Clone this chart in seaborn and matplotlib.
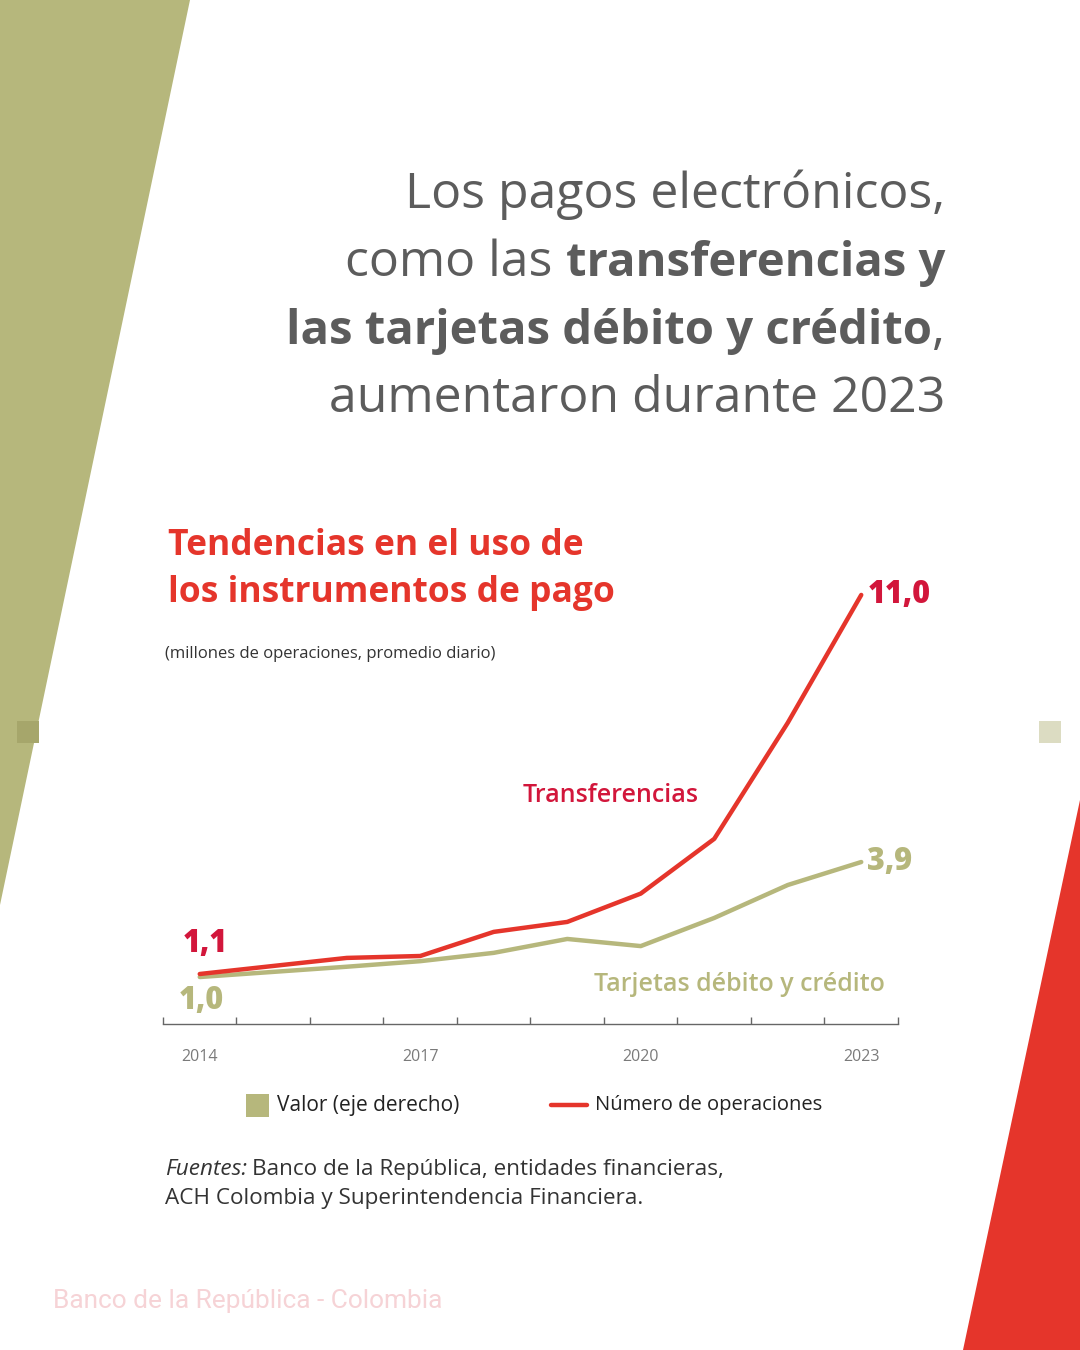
import matplotlib
matplotlib.use("Agg")
import matplotlib.pyplot as plt
import matplotlib.patches as mpatches
from matplotlib.lines import Line2D
import seaborn as sns
import pandas as pd

# ---------------- data ----------------
years = [2014, 2015, 2016, 2017, 2018, 2019, 2020, 2021, 2022, 2023]
transferencias = [1.1, 1.31, 1.52, 1.57, 2.2, 2.46, 3.2, 4.63, 7.66, 11.0]   # número de operaciones
tarjetas = [1.0, 1.13, 1.26, 1.40, 1.61, 1.96, 1.78, 2.49, 3.32, 3.9]        # valor (eje derecho)
tick_years = [2014, 2017, 2020, 2023]

df = pd.DataFrame({"year": years, "transferencias": transferencias, "tarjetas": tarjetas})

RED = "#e5352b"
CRIMSON = "#d2163b"
OLIVE = "#b6b77c"
GRAY = "#5c5c5c"
DARK = "#333333"

sns.set_theme(style="white")
plt.rcParams["font.family"] = ["Open Sans", "DejaVu Sans"]

W, H = 1080, 1350
fig = plt.figure(figsize=(W / 100, H / 100), dpi=100)
fig.patch.set_facecolor("white")

def fx(x):
    return x / W

def fy(y):
    return 1 - y / H

# ---------------- background shapes ----------------
bg = fig.add_axes([0, 0, 1, 1], zorder=-5)
bg.set_xlim(0, W)
bg.set_ylim(H, 0)
bg.axis("off")
bg.add_patch(mpatches.Polygon([(0, 0), (190, 0), (0, 905)], closed=True, color=OLIVE, lw=0))
bg.add_patch(mpatches.Polygon([(1080, 800), (1080, 1350), (963, 1350)], closed=True, color=RED, lw=0))
bg.add_patch(mpatches.Rectangle((17, 721), 22, 22, color="#a6a66b", lw=0))
bg.add_patch(mpatches.Rectangle((1039, 721), 22, 22, color="#dcdcc2", lw=0))

# ---------------- headline ----------------
renderer = fig.canvas.get_renderer()
SIZES = {"normal": 36, "bold": 34}
RX = 945

def right_line(parts, y):
    """parts: list of (text, weight) drawn right-aligned ending at RX."""
    x = RX
    for txt, wt in reversed(parts):
        t = fig.text(fx(x), fy(y), txt, ha="right", va="baseline", fontsize=SIZES[wt],
                     fontweight=wt, color=GRAY)
        bb = t.get_window_extent(renderer=renderer)
        x = x - bb.width

right_line([("Los pagos electrónicos,", "normal")], 208)
right_line([("como las ", "normal"), ("transferencias y", "bold")], 276)
right_line([("las tarjetas débito y crédito", "bold"), (",", "normal")], 344)
right_line([("aumentaron durante 2023", "normal")], 412)

# ---------------- chart titles ----------------
fig.text(fx(168), fy(555), "Tendencias en el uso de", fontsize=25.5, fontweight="bold",
         color=RED, ha="left", va="baseline")
fig.text(fx(168), fy(602), "los instrumentos de pago", fontsize=25.5, fontweight="bold",
         color=RED, ha="left", va="baseline")
fig.text(fx(165), fy(658), "(millones de operaciones, promedio diario)", fontsize=12,
         color=DARK, ha="left", va="baseline")

# ---------------- chart ----------------
ax_left, ax_right_px = 163, 898
ax_top, ax_bot = 580, 1024
ax = fig.add_axes([fx(ax_left), fy(ax_bot), (ax_right_px - ax_left) / W, (ax_bot - ax_top) / H])
ax.set_facecolor("none")
ax2 = ax.twinx()

sns.lineplot(data=df, x="year", y="transferencias", ax=ax, color=RED, lw=3.2,
             solid_capstyle="round", zorder=3)
sns.lineplot(data=df, x="year", y="tarjetas", ax=ax2, color=OLIVE, lw=3.2,
             solid_capstyle="round", zorder=2)
ax.set_zorder(ax2.get_zorder() + 1)
ax.patch.set_visible(False)

ax.set_xlim(2013.5, 2023.5)
ax.set_ylim(-0.206, 11.39)
ax2.set_ylim(-0.184, 11.01)

for a in (ax, ax2):
    a.set_xlabel("")
    a.set_ylabel("")
    a.set_yticks([])
    for s in ("top", "left", "right"):
        a.spines[s].set_visible(False)
ax2.spines["bottom"].set_visible(False)
ax.spines["bottom"].set_color("#666666")
ax.spines["bottom"].set_linewidth(1.0)

ax.set_xticks(tick_years)
ax.set_xticklabels([str(y) for y in tick_years], fontsize=11.5, color="#7a7a7a")
ax.set_xticks([y - 0.5 for y in years] + [years[-1] + 0.5], minor=True)
ax.tick_params(axis="x", which="major", length=0, pad=18)
ax.tick_params(axis="x", which="minor", length=5, width=1, color="#666666",
               direction="in", bottom=True)

# value labels
ax.annotate("1,1", (years[0], transferencias[0]), xytext=(-17, 14), textcoords="offset pixels",
            fontsize=22, fontweight="heavy", color=CRIMSON, ha="left", va="bottom")
ax.annotate("11,0", (years[-1], transferencias[-1]), xytext=(6, 0), textcoords="offset pixels",
            fontsize=22, fontweight="heavy", color=CRIMSON, ha="left", va="center")
ax2.annotate("1,0", (years[0], tarjetas[0]), xytext=(-21, -8), textcoords="offset pixels",
             fontsize=22, fontweight="heavy", color=OLIVE, ha="left", va="top")
ax2.annotate("3,9", (years[-1], tarjetas[-1]), xytext=(6, 0), textcoords="offset pixels",
             fontsize=22, fontweight="heavy", color=OLIVE, ha="left", va="center")

fig.text(fx(523), fy(802), "Transferencias", fontsize=18, fontweight="semibold",
         color=CRIMSON, ha="left", va="baseline")
fig.text(fx(594), fy(991), "Tarjetas débito y crédito", fontsize=18, fontweight="semibold",
         color=OLIVE, ha="left", va="baseline")

# ---------------- legend (manual) ----------------
bg.add_patch(mpatches.Rectangle((246, 1094), 23, 23, color=OLIVE, lw=0))
bg.add_line(Line2D([551, 587], [1105, 1105], color=RED, lw=3.2))
fig.text(fx(277), fy(1105), "Valor (eje derecho)", fontsize=15, color="#222222",
         ha="left", va="center")
fig.text(fx(595), fy(1105), "Número de operaciones", fontsize=14.5, color="#222222",
         ha="left", va="center")

# ---------------- source ----------------
t_src = fig.text(fx(165), fy(1175), "Fuentes:", fontsize=16.2, style="italic", color=DARK,
                 ha="left", va="baseline")
wsrc = t_src.get_window_extent(renderer=renderer).width
fig.text(fx(165 + wsrc + 5), fy(1175), "Banco de la República, entidades financieras,",
         fontsize=16.2, color=DARK, ha="left", va="baseline")
fig.text(fx(165), fy(1204), "ACH Colombia y Superintendencia Financiera.", fontsize=16.2,
         color=DARK, ha="left", va="baseline")

fig.text(fx(53), fy(1308), "Banco de la República - Colombia", fontsize=18.9,
         family=["Roboto", "DejaVu Sans"], color="#f6d3d6", ha="left", va="baseline")

fig.savefig("out.png", dpi=100, facecolor="white")
